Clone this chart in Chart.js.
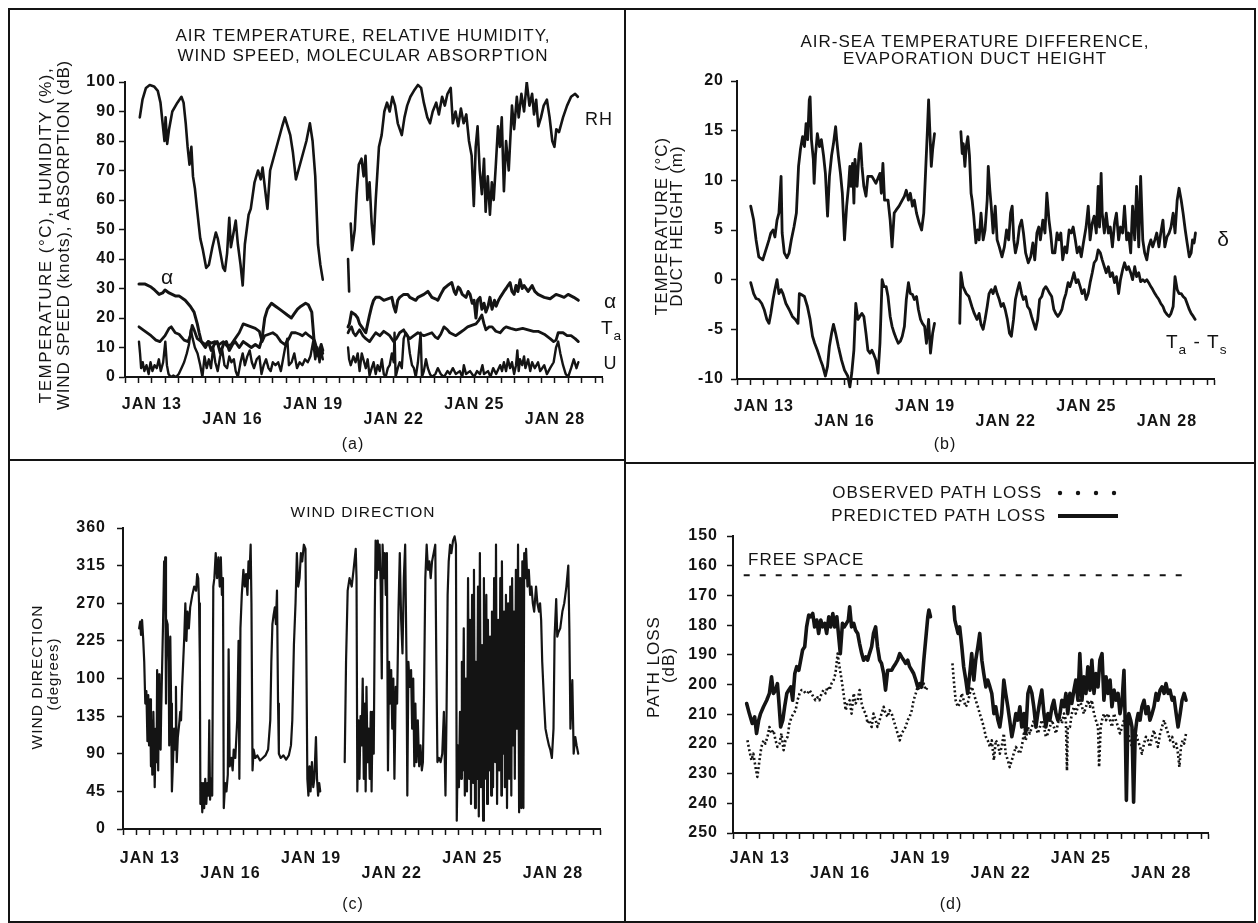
<!DOCTYPE html>
<html>
<head>
<meta charset="utf-8">
<title>Meteorology and path loss, Jan 13 - Jan 28</title>
<script src="https://cdn.jsdelivr.net/npm/chart.js@4.4.1/dist/chart.umd.min.js"></script>
<style>
  body { margin: 0; background: #fff; }
  #fig { position: relative; width: 1258px; height: 923px; background: #fff; overflow: hidden; }
  #fig canvas { position: absolute; }
  .rule { position: absolute; background: #141414; }
</style>
</head>
<body>
<div id="fig">
  <canvas id="panelA" width="626" height="460" style="left:0;top:0"></canvas>
  <canvas id="panelB" width="632" height="460" style="left:626px;top:0"></canvas>
  <canvas id="panelC" width="626" height="463" style="left:0;top:460px"></canvas>
  <canvas id="panelD" width="632" height="463" style="left:626px;top:460px"></canvas>
  <div class="rule" style="left:8px;top:8px;width:1248px;height:2px"></div>
  <div class="rule" style="left:8px;top:921px;width:1248px;height:2px"></div>
  <div class="rule" style="left:8px;top:8px;width:2px;height:915px"></div>
  <div class="rule" style="left:1254px;top:8px;width:2px;height:915px"></div>
  <div class="rule" style="left:624px;top:8px;width:2px;height:915px"></div>
  <div class="rule" style="left:8px;top:459px;width:618px;height:2px"></div>
  <div class="rule" style="left:624px;top:462px;width:632px;height:2px"></div>
</div>
<script>
// ---- axis labels ----
const dateTicks = [13, 16, 19, 22, 25, 28];
const dateTickLabels = ['JAN 13', 'JAN 16', 'JAN 19', 'JAN 22', 'JAN 25', 'JAN 28'];
const windTickLabels = ['0', '45', '90', '135', '100', '225', '270', '315', '360'];

// ---- (a) air temperature, humidity, wind speed, absorption : [day of January, value] ----
const rhPoints = [
  [12.55,88],[12.65,94],[12.78,98],[12.92,99],[13.08,98.5],[13.22,97],[13.32,93],[13.4,86],[13.47,80],[13.51,88],
  [13.57,79],[13.64,84],[13.76,90],[13.95,93],[14.1,95],[14.18,93],[14.26,86],[14.33,78],[14.4,72],[14.47,78],
  [14.53,68],[14.6,64],[14.68,57],[14.8,47],[14.9,43],[15.02,37],[15.12,38],[15.25,44],[15.38,49],[15.45,47],
  [15.55,42],[15.65,37],[15.72,36],[15.8,42],[15.88,54],[15.94,44],[16.02,48],[16.12,53],[16.2,45],[16.3,38],
  [16.38,31],[16.46,45],[16.6,55],[16.68,57],[16.82,66],[16.95,70],[17.05,67],[17.12,71],[17.22,63],[17.3,57],
  [17.4,70],[17.55,75],[17.7,80],[17.85,85],[17.95,88],[18.05,85],[18.15,82],[18.25,76],[18.36,67],[18.45,70],
  [18.6,75],[18.75,80],[18.88,86],[18.98,80],[19.08,68],[19.18,45],[19.27,38],[19.36,33],
  [19.8,null],
  [20.3,40],[20.34,29],[20.37,null],
  [20.4,52],[20.45,43],[20.55,50],[20.62,62],[20.7,72],[20.8,74],[20.88,68],[20.95,75],[21.02,60],[21.1,66],
  [21.18,52],[21.25,45],[21.33,60],[21.45,78],[21.55,82],[21.65,90],[21.75,93],[21.85,90],[21.95,95],[22.05,92],
  [22.15,86],[22.3,82],[22.4,88],[22.5,92],[22.62,95],[22.75,97],[22.9,99],[23.02,98],[23.12,93],[23.25,88],
  [23.35,86],[23.45,90],[23.58,93],[23.68,89],[23.8,95],[23.9,92],[24.0,96],[24.12,98],[24.2,86],[24.3,90],
  [24.4,85],[24.5,91],[24.6,86],[24.7,89],[24.8,80],[24.9,75],[24.98,58],[25.05,78],[25.12,85],[25.2,70],
  [25.28,62],[25.36,74],[25.42,56],[25.5,68],[25.58,55],[25.65,66],[25.72,60],[25.8,72],[25.88,85],[25.95,78],
  [26.02,88],[26.1,63],[26.18,80],[26.28,70],[26.4,92],[26.48,84],[26.58,95],[26.65,88],[26.75,96],[26.85,90],
  [26.95,100],[27.05,92],[27.15,96],[27.22,89],[27.3,94],[27.38,85],[27.48,88],[27.58,92],[27.7,94],[27.8,88],
  [27.9,80],[27.98,78],[28.05,84],[28.15,83],[28.3,88],[28.45,92],[28.6,95],[28.75,96],[28.85,95]
];
const alphaPoints = [
  [12.52,31.5],[12.75,31.5],[12.97,30.5],[13.1,29.5],[13.27,28],[13.4,28.5],[13.49,29.5],[13.64,28.5],[13.87,27.5],
  [14.01,27.5],[14.24,26],[14.43,24],[14.57,22],[14.69,18],[14.76,15],[14.84,12],[14.99,10],[15.1,12],[15.21,9],
  [15.32,11],[15.43,12],[15.55,8],[15.66,11],[15.77,12],[15.88,9],[16.0,11],[16.1,12],[16.25,10],[16.4,12],
  [16.55,11],[16.7,10],[16.85,11],[17.0,10],[17.1,13],[17.2,20],[17.3,23],[17.45,25],[17.6,24],[17.75,23],
  [17.9,22],[18.04,21],[18.19,20],[18.3,21.5],[18.42,23],[18.55,24],[18.72,25],[18.82,24.5],[18.95,22],[19.03,13],
  [19.12,10],[19.22,8],[19.3,11],[19.36,9],
  [19.8,null],
  [20.3,17],[20.35,18],[20.43,22],[20.58,21],[20.66,20],[20.73,18],[20.81,17],[20.96,15],[21.03,18],[21.1,21],
  [21.18,24],[21.25,26],[21.33,27],[21.48,27],[21.63,26],[21.78,26.5],[21.93,27],[22.0,24],[22.07,22],[22.15,26],
  [22.22,27],[22.37,28],[22.52,28],[22.6,27],[22.82,26],[22.9,27],[23.12,28],[23.27,29],[23.42,27],[23.55,26.5],
  [23.64,26],[23.75,28],[23.87,30],[24.0,31],[24.16,32],[24.25,29],[24.31,28],[24.4,30.5],[24.46,30],[24.55,28],
  [24.69,27],[24.77,29],[24.84,28],[24.92,25],[24.99,26],[25.06,20],[25.12,26],[25.21,27],[25.28,23],[25.36,25],
  [25.43,22],[25.51,24],[25.58,27],[25.66,23],[25.75,26],[25.81,24],[25.9,26],[25.96,27],[26.1,29],[26.18,30],
  [26.25,31],[26.33,32],[26.4,29],[26.48,28],[26.55,31],[26.62,29],[26.7,33],[26.78,30],[26.85,31],[27.0,29],
  [27.15,31],[27.25,29],[27.37,28],[27.6,27],[27.82,26.5],[28.04,28],[28.2,27.5],[28.34,27],[28.49,28],[28.7,27],
  [28.87,26]
];
const taPoints = [
  [12.52,17],[12.75,15.5],[12.97,14],[13.15,12.5],[13.3,12],[13.49,14],[13.64,16.5],[13.72,17],[13.87,15],[14.01,14.5],
  [14.2,12.5],[14.35,12],[14.43,14],[14.5,17.5],[14.57,16],[14.69,13],[14.84,12],[14.99,11],[15.1,12],[15.21,11.5],
  [15.35,12],[15.5,11],[15.66,12],[15.8,10.5],[15.95,11],[16.1,13],[16.25,15],[16.4,18],[16.55,17.5],[16.7,17],
  [16.85,16.5],[17.0,15.5],[17.1,12],[17.2,14],[17.35,14.5],[17.5,15],[17.65,14],[17.8,12],[17.95,11],[18.1,13],
  [18.2,15],[18.35,15],[18.5,14.5],[18.6,14],[18.72,15],[18.85,14],[19.0,13],[19.1,10],[19.2,7],[19.28,10],[19.36,8],
  [19.8,null],
  [20.3,15],[20.35,16],[20.43,17],[20.5,15],[20.58,14],[20.73,16],[20.85,14],[20.96,13],[21.1,12],[21.25,14],
  [21.33,15],[21.48,14],[21.63,15.5],[21.78,14.5],[21.85,14],[22.0,12],[22.1,13],[22.22,15],[22.37,16],[22.45,14.5],
  [22.6,13],[22.75,14],[22.9,15],[23.12,14],[23.27,14.5],[23.42,15],[23.55,13.5],[23.64,13],[23.75,14.5],[23.87,17],
  [24.0,16],[24.09,15],[24.31,14],[24.46,15],[24.61,16],[24.75,17],[24.9,17.5],[25.06,18],[25.15,19],[25.28,21],
  [25.36,18],[25.43,16],[25.55,17],[25.66,17],[25.8,15.5],[25.96,15],[26.1,16.5],[26.18,17],[26.35,16.5],[26.55,16],
  [26.8,16.5],[27.0,16],[27.2,15.5],[27.37,15.5],[27.6,14.5],[27.82,13],[27.95,12],[28.04,12.5],[28.12,15],[28.3,15],
  [28.45,14],[28.6,14],[28.75,13],[28.87,12]
];
const windSpeedPoints = [
  [12.52,12],[12.56,8],[12.6,3],[12.66,5],[12.72,2],[12.8,4],[12.88,1],[12.95,5],[13.02,2],[13.1,4],
  [13.18,3],[13.26,6],[13.33,2],[13.42,5],[13.5,12],[13.56,4],[13.62,1],[13.7,0],[13.8,0.5],[13.9,0],
  [14.0,1],[14.1,3],[14.2,5],[14.3,8],[14.38,11],[14.45,16],[14.52,13],[14.6,10],[14.7,8],[14.8,4],
  [14.88,0],[14.96,7],[15.04,3],[15.12,6],[15.2,3],[15.28,10],[15.36,5],[15.45,2],[15.54,7],[15.62,9],
  [15.7,4],[15.8,3],[15.88,7],[15.96,5],[16.05,6],[16.12,2],[16.2,0],[16.3,5],[16.38,8],[16.46,4],
  [16.55,7],[16.64,9],[16.72,5],[16.8,3],[16.9,6],[17.0,7],[17.08,1],[17.16,4],[17.25,6],[17.34,3],
  [17.42,2],[17.5,5],[17.6,4],[17.7,5],[17.8,2],[17.88,6],[17.96,10],[18.04,13],[18.1,4],[18.2,5],
  [18.3,8],[18.4,3],[18.5,5],[18.6,4],[18.7,6],[18.8,5],[18.9,7],[19.0,12],[19.08,6],[19.16,10],
  [19.24,5],[19.3,9],[19.36,6],
  [19.8,null],
  [20.3,10],[20.34,6],[20.4,4],[20.5,7],[20.58,5],[20.66,8],[20.73,2],[20.81,8],[20.9,5],[20.96,3],
  [21.03,6],[21.1,0.5],[21.18,3],[21.25,5],[21.33,1],[21.4,4],[21.48,2],[21.56,6],[21.63,1],[21.7,0],
  [21.78,3],[21.85,4],[21.93,8],[22.0,5],[22.03,15],[22.07,0],[22.15,3],[22.22,5],[22.3,3],[22.37,13],
  [22.45,15],[22.52,14],[22.6,8],[22.68,4],[22.75,3],[22.82,0],[22.9,5],[22.97,12],[23.0,15],[23.05,0],
  [23.12,2],[23.2,6],[23.27,3],[23.35,1],[23.42,0],[23.55,1],[23.64,3],[23.75,1],[23.87,0],[24.0,2],
  [24.09,1],[24.2,3],[24.31,1],[24.46,2],[24.55,0],[24.61,4],[24.69,1],[24.84,2],[24.99,0],[25.1,2],
  [25.21,1],[25.3,4],[25.36,1],[25.51,2],[25.6,0],[25.7,3],[25.81,1],[25.96,4],[26.03,2],[26.1,5],
  [26.18,2],[26.25,6],[26.33,3],[26.4,5],[26.48,1],[26.55,4],[26.6,9],[26.65,2],[26.7,6],[26.78,4],
  [26.85,7],[26.9,3],[27.0,6],[27.08,2],[27.15,5],[27.25,3],[27.37,5],[27.45,2],[27.6,4],[27.7,1],
  [27.82,3],[27.95,5],[28.04,10],[28.12,12],[28.2,8],[28.3,4],[28.4,1],[28.49,0],[28.6,3],[28.7,6],
  [28.8,3],[28.87,5]
];

// ---- (b) evaporation duct height and air-sea temperature difference ----
const ductPoints = [
  [12.51,7.4],[12.62,6.0],[12.71,4.0],[12.81,2.3],[12.96,2.0],[13.04,2.7],[13.11,3.3],[13.19,4.0],[13.26,4.7],[13.34,5.0],
  [13.41,4.3],[13.49,6.0],[13.56,6.7],[13.64,10.4],[13.68,4.7],[13.76,2.7],[13.86,2.2],[13.94,2.7],[14.02,4.0],[14.12,5.3],
  [14.21,6.7],[14.29,11.4],[14.36,13.1],[14.44,14.4],[14.51,13.4],[14.57,15.7],[14.63,14.1],[14.69,18.1],[14.72,18.4],[14.77,14.1],
  [14.84,12.1],[14.87,9.7],[14.92,12.5],[14.99,14.7],[15.07,13.4],[15.14,14.1],[15.22,12.5],[15.29,10.7],[15.37,6.4],[15.44,10.4],
  [15.52,12.5],[15.59,13.7],[15.67,15.4],[15.71,14.1],[15.77,12.5],[15.85,10.7],[15.92,8.7],[16.0,4.0],[16.08,7.4],[16.15,9.4],
  [16.2,11.4],[16.24,9.4],[16.3,11.7],[16.35,7.7],[16.39,12.1],[16.47,9.4],[16.54,12.7],[16.6,13.7],[16.65,11.4],[16.72,9.4],
  [16.8,8.4],[16.87,10.4],[17.02,10.4],[17.17,9.7],[17.32,10.7],[17.37,8.7],[17.43,11.7],[17.49,8.0],[17.62,8.0],[17.7,6.0],
  [17.77,3.3],[17.85,6.7],[17.92,7.0],[18.03,7.4],[18.15,8.0],[18.23,8.4],[18.3,9.0],[18.38,8.0],[18.45,8.7],[18.53,7.4],
  [18.6,8.0],[18.68,6.7],[18.78,5.7],[18.87,5.0],[18.95,6.7],[19.02,11.0],[19.08,14.7],[19.13,18.1],[19.17,15.4],[19.23,11.4],
  [19.28,13.1],[19.35,14.7],
  [19.8,null],
  [20.33,14.9],[20.38,12.7],[20.42,13.7],[20.48,11.4],[20.53,13.4],[20.59,14.4],[20.65,12.5],[20.71,8.7],[20.75,8.0],[20.81,6.4],
  [20.89,3.7],[20.95,5.0],[21.01,4.0],[21.08,6.7],[21.16,4.0],[21.23,5.0],[21.31,8.0],[21.35,11.4],[21.41,9.0],[21.46,7.4],
  [21.53,4.7],[21.61,7.4],[21.68,4.0],[21.76,3.3],[21.86,2.3],[21.95,3.3],[22.03,5.0],[22.11,4.0],[22.18,6.7],[22.24,7.4],
  [22.3,4.0],[22.36,2.7],[22.44,3.7],[22.51,5.3],[22.59,6.0],[22.66,4.7],[22.74,2.7],[22.84,1.7],[22.93,2.3],[23.01,3.7],
  [23.08,2.0],[23.16,4.7],[23.23,5.3],[23.29,4.0],[23.38,6.0],[23.46,4.7],[23.53,8.7],[23.61,6.0],[23.67,4.7],[23.74,2.7],
  [23.83,2.7],[23.91,4.7],[23.98,4.0],[24.05,4.7],[24.12,2.0],[24.2,3.3],[24.27,2.7],[24.36,5.0],[24.44,4.7],[24.51,5.3],
  [24.59,4.0],[24.66,2.7],[24.74,3.3],[24.81,2.3],[24.89,3.7],[24.99,5.3],[25.07,7.4],[25.14,4.0],[25.22,5.7],[25.29,6.4],
  [25.37,4.7],[25.44,9.4],[25.49,5.3],[25.55,10.7],[25.59,6.7],[25.67,4.7],[25.74,6.7],[25.82,4.7],[25.89,5.3],[25.97,3.3],
  [26.05,5.7],[26.12,6.7],[26.2,4.0],[26.27,5.3],[26.35,4.7],[26.42,7.4],[26.5,4.0],[26.57,4.7],[26.65,2.7],[26.72,7.4],
  [26.8,4.0],[26.87,9.4],[26.95,3.3],[27.02,10.4],[27.1,4.0],[27.17,2.7],[27.25,2.0],[27.32,3.3],[27.4,4.0],[27.47,3.3],
  [27.55,4.0],[27.62,4.7],[27.7,3.3],[27.77,4.7],[27.85,6.0],[27.92,3.3],[28.0,4.3],[28.08,4.7],[28.15,5.3],[28.23,6.7],
  [28.3,4.7],[28.38,8.0],[28.45,9.2],[28.53,8.0],[28.6,6.7],[28.68,5.0],[28.75,3.7],[28.83,2.3],[28.9,2.7],[28.95,4.0],
  [29.01,3.7],[29.06,4.7]
];
const airSeaPoints = [
  [12.51,-0.3],[12.62,-1.4],[12.71,-1.9],[12.81,-2.0],[12.92,-2.4],[13.01,-3.0],[13.11,-4.0],[13.19,-4.4],[13.26,-3.4],[13.34,-2.0],
  [13.41,-1.0],[13.49,0],[13.56,-1.4],[13.64,-1.0],[13.71,-1.4],[13.82,-2.4],[13.94,-3.0],[14.06,-3.7],[14.17,-4.0],[14.27,-4.4],
  [14.32,-1.4],[14.39,-1.5],[14.51,-1.7],[14.62,-2.7],[14.72,-4.0],[14.81,-5.7],[14.89,-6.4],[14.99,-7.1],[15.11,-8.1],[15.19,-8.7],
  [15.29,-9.7],[15.37,-8.7],[15.44,-6.7],[15.52,-5.4],[15.59,-4.5],[15.67,-5.4],[15.77,-6.7],[15.89,-8.1],[16.0,-9.1],[16.12,-9.7],
  [16.2,-10.8],[16.27,-9.4],[16.35,-7.1],[16.42,-2.4],[16.5,-4.0],[16.57,-3.7],[16.65,-3.4],[16.72,-3.7],[16.8,-5.4],[16.87,-7.1],
  [16.95,-7.4],[17.02,-7.1],[17.1,-7.6],[17.17,-8.1],[17.25,-9.4],[17.32,-6.4],[17.4,0],[17.47,-0.7],[17.55,-0.7],[17.62,-1.7],
  [17.7,-3.7],[17.77,-4.7],[17.85,-5.4],[17.92,-5.9],[18.0,-6.4],[18.08,-6.2],[18.15,-5.7],[18.23,-4.7],[18.3,-2.0],[18.38,-0.3],
  [18.45,-1.4],[18.53,-1.5],[18.6,-2.0],[18.68,-1.7],[18.75,-3.0],[18.83,-4.0],[18.9,-4.4],[18.98,-4.7],[19.05,-6.4],[19.13,-4.0],
  [19.2,-7.4],[19.28,-5.4],[19.35,-4.4],
  [19.8,null],
  [20.29,-4.4],[20.33,0.7],[20.41,-0.7],[20.53,-1.4],[20.63,-1.7],[20.74,-2.7],[20.83,-3.4],[20.93,-4.0],[21.01,-3.4],[21.08,-4.5],
  [21.16,-5.0],[21.23,-4.0],[21.31,-2.7],[21.38,-1.4],[21.46,-1.0],[21.53,-1.4],[21.61,-0.7],[21.68,-1.4],[21.76,-2.0],[21.83,-2.7],
  [21.91,-2.4],[21.98,-3.0],[22.06,-4.0],[22.14,-5.4],[22.21,-5.7],[22.29,-4.0],[22.36,-2.0],[22.44,-1.0],[22.51,-0.3],[22.59,-1.4],
  [22.66,-2.0],[22.74,-1.7],[22.81,-2.7],[22.89,-3.0],[22.96,-3.7],[23.04,-4.4],[23.11,-5.0],[23.19,-4.0],[23.26,-2.0],[23.34,-1.7],
  [23.41,-1.0],[23.49,-0.7],[23.56,-1.0],[23.64,-1.4],[23.71,-1.7],[23.79,-3.0],[23.86,-3.4],[23.94,-3.7],[24.02,-3.4],[24.09,-3.0],
  [24.17,-2.0],[24.24,-1.4],[24.32,-0.3],[24.39,-0.7],[24.47,0],[24.54,0.7],[24.62,-0.3],[24.69,0],[24.77,-0.7],[24.84,-1.4],
  [24.92,-1.0],[24.99,-2.0],[25.07,-1.4],[25.14,-0.3],[25.22,0.7],[25.29,1.7],[25.37,2.0],[25.44,3.0],[25.52,2.7],[25.59,2.0],
  [25.67,1.3],[25.74,0.7],[25.82,1.3],[25.89,0.3],[25.97,0.7],[26.05,-0.3],[26.12,0.3],[26.2,-1.4],[26.27,0],[26.35,1.0],
  [26.42,1.7],[26.5,1.0],[26.57,1.3],[26.65,0.7],[26.72,0],[26.8,1.3],[26.87,0.3],[26.95,0.7],[27.02,-0.2],[27.1,0],
  [27.17,-0.2],[27.25,0],[27.32,-0.3],[27.4,-0.7],[27.47,-1.0],[27.55,-1.4],[27.62,-1.7],[27.7,-2.0],[27.77,-2.4],[27.85,-2.7],
  [27.92,-3.2],[28.0,-3.5],[28.08,-3.7],[28.15,-3.4],[28.23,-2.7],[28.3,0.3],[28.38,-1.0],[28.45,-1.4],[28.53,-1.4],[28.6,-1.7],
  [28.68,-1.9],[28.75,-2.4],[28.83,-3.0],[28.9,-3.4],[28.98,-3.7],[29.05,-4.0]
];

// ---- (c) wind direction (degrees) ----
const windDirPoints = [
  [12.6,240],[12.64,248],[12.67,232],[12.71,250],[12.75,228],[12.79,200],[12.83,150],[12.87,165],[12.91,105],[12.94,160],
  [12.97,100],[13.01,155],[13.04,75],[13.06,130],[13.09,65],[13.13,140],[13.16,90],[13.18,50],[13.22,120],[13.25,80],
  [13.27,190],[13.31,70],[13.34,185],[13.36,100],[13.4,95],[13.42,140],[13.46,200],[13.49,245],[13.53,320],[13.55,300],
  [13.57,325],[13.6,150],[13.62,250],[13.66,245],[13.7,200],[13.72,100],[13.76,230],[13.79,150],[13.82,45],[13.86,80],
  [13.9,120],[13.94,95],[13.97,170],[14.0,80],[14.04,110],[14.09,125],[14.13,140],[14.16,130],[14.2,170],[14.24,200],
  [14.28,230],[14.32,270],[14.36,225],[14.4,260],[14.45,240],[14.5,265],[14.58,280],[14.65,290],[14.72,285],[14.76,305],
  [14.8,300],[14.83,270],[14.86,200],[14.88,30],[14.92,55],[14.95,20],[14.98,55],[15.02,25],[15.06,60],[15.1,30],
  [15.14,55],[15.18,40],[15.21,130],[15.24,35],[15.28,60],[15.32,40],[15.36,290],[15.4,300],[15.45,330],[15.5,300],
  [15.55,325],[15.6,290],[15.64,325],[15.68,280],[15.72,300],[15.75,25],[15.8,55],[15.85,45],[15.9,65],[15.93,215],
  [15.97,75],[16.03,85],[16.08,70],[16.12,95],[16.18,85],[16.25,130],[16.3,225],[16.33,60],[16.37,240],[16.42,280],
  [16.48,310],[16.53,290],[16.58,305],[16.63,280],[16.67,320],[16.7,300],[16.75,340],[16.78,270],[16.82,70],[16.86,95],
  [16.92,85],[17.0,88],[17.1,82],[17.2,85],[17.3,88],[17.4,95],[17.48,130],[17.52,200],[17.56,245],[17.6,255],
  [17.65,265],[17.69,245],[17.73,285],[17.77,150],[17.8,90],[17.87,85],[17.97,88],[18.07,83],[18.17,88],[18.25,100],
  [18.3,130],[18.36,220],[18.42,270],[18.47,330],[18.52,290],[18.57,300],[18.62,330],[18.67,320],[18.73,340],[18.79,335],
  [18.82,220],[18.86,60],[18.9,40],[18.94,75],[18.98,45],[19.03,80],[19.08,50],[19.12,60],[19.18,110],[19.22,60],
  [19.26,40],[19.3,55],[19.34,45],
  [19.8,null],
  [20.25,80],[20.3,200],[20.36,285],[20.43,300],[20.51,290],[20.58,310],[20.66,335],[20.69,300],[20.72,45],[20.76,130],
  [20.8,60],[20.84,135],[20.88,100],[20.92,180],[20.96,60],[21.0,150],[21.03,45],[21.06,170],[21.1,80],[21.14,120],
  [21.18,60],[21.22,140],[21.25,45],[21.29,140],[21.33,90],[21.37,260],[21.4,345],[21.44,300],[21.48,345],[21.52,310],
  [21.55,340],[21.59,290],[21.63,180],[21.66,340],[21.7,300],[21.74,330],[21.78,280],[21.82,330],[21.86,70],[21.9,200],
  [21.94,150],[21.98,190],[22.02,120],[22.06,180],[22.1,60],[22.15,170],[22.2,150],[22.25,260],[22.3,330],[22.35,250],
  [22.4,210],[22.45,300],[22.5,340],[22.55,200],[22.58,40],[22.62,200],[22.67,170],[22.72,190],[22.76,120],[22.8,180],
  [22.84,75],[22.88,150],[22.92,80],[22.97,130],[23.02,75],[23.07,100],[23.12,70],[23.16,80],[23.2,160],[23.25,300],
  [23.3,340],[23.35,310],[23.4,320],[23.45,300],[23.5,320],[23.56,330],[23.62,340],[23.66,200],[23.7,80],[23.76,85],
  [23.82,80],[23.88,90],[23.94,140],[24.0,40],[24.04,140],[24.08,280],[24.12,320],[24.17,340],[24.22,330],[24.28,345],
  [24.34,350],[24.39,340],[24.42,10],[24.46,100],[24.5,50],[24.54,140],[24.58,60],[24.61,200],[24.64,70],[24.68,240],
  [24.72,40],[24.76,180],[24.8,45],[24.84,300],[24.88,60],[24.91,250],[24.95,30],[24.99,280],[25.03,55],[25.06,310],
  [25.1,25],[25.13,200],[25.17,60],[25.21,290],[25.24,15],[25.28,330],[25.32,50],[25.36,220],[25.4,10],[25.43,300],
  [25.47,60],[25.52,280],[25.55,30],[25.58,250],[25.62,70],[25.66,230],[25.7,40],[25.73,260],[25.77,50],[25.81,300],
  [25.85,80],[25.88,340],[25.92,30],[25.96,250],[26.0,70],[26.04,300],[26.08,40],[26.1,320],[26.14,90],[26.18,260],
  [26.21,50],[26.25,280],[26.29,25],[26.33,270],[26.37,60],[26.41,290],[26.45,40],[26.48,300],[26.52,100],[26.55,260],
  [26.58,60],[26.62,310],[26.66,120],[26.7,340],[26.74,20],[26.78,300],[26.82,25],[26.86,320],[26.9,25],[26.93,330],
  [26.97,300],[27.0,335],[27.05,290],[27.1,310],[27.15,280],[27.2,290],[27.25,270],[27.3,260],[27.37,290],[27.42,270],
  [27.48,260],[27.52,270],[27.56,250],[27.6,200],[27.67,150],[27.72,120],[27.78,110],[27.85,100],[27.9,95],[27.96,85],
  [28.02,120],[28.06,230],[28.12,275],[28.16,230],[28.2,235],[28.27,240],[28.35,260],[28.42,270],[28.5,290],[28.57,315],
  [28.61,240],[28.65,120],[28.72,178],[28.77,90],[28.83,110],[28.88,100],[28.94,90]
];

// ---- (d) path loss (dB) ----
const freeSpacePoints = [[12.4,163.2],[28.8,163.2]];
const observedPoints = [
  [12.54,218.8],[12.61,222.1],[12.69,225.5],[12.76,223.3],[12.84,227.8],[12.91,231.1],[12.99,225.5],[13.06,221.0],[13.14,218.8],[13.21,219.9],
  [13.29,217.6],[13.36,214.3],[13.44,216.5],[13.51,215.4],[13.59,218.8],[13.66,221.0],[13.74,219.9],[13.81,216.5],[13.89,222.1],[13.96,218.8],
  [14.04,217.6],[14.11,213.1],[14.19,210.9],[14.26,209.8],[14.34,208.7],[14.41,205.3],[14.49,203.0],[14.56,201.9],[14.63,201.9],[14.71,203.0],
  [14.78,203.0],[14.86,201.9],[14.93,203.0],[15.01,204.3],[15.08,205.3],[15.16,204.3],[15.23,205.3],[15.31,203.0],[15.38,201.9],[15.46,203.0],
  [15.53,200.8],[15.61,201.9],[15.68,199.7],[15.76,198.5],[15.83,196.3],[15.91,189.6],[15.98,194.0],[16.06,198.5],[16.13,203.0],[16.21,208.7],
  [16.28,206.4],[16.36,205.3],[16.43,209.8],[16.51,203.0],[16.58,206.4],[16.66,205.3],[16.73,201.9],[16.81,206.4],[16.88,208.7],[16.96,209.8],
  [17.03,213.1],[17.1,212.0],[17.18,214.3],[17.25,209.8],[17.33,212.0],[17.4,214.3],[17.48,212.0],[17.55,209.8],[17.63,207.5],[17.7,209.8],
  [17.78,210.9],[17.85,208.7],[17.93,209.8],[18.0,212.0],[18.08,214.3],[18.15,216.5],[18.23,218.8],[18.3,216.5],[18.38,215.4],[18.45,214.3],
  [18.53,212.0],[18.6,210.9],[18.68,208.7],[18.75,205.3],[18.83,203.0],[18.9,200.8],[18.98,201.9],[19.05,200.8],[19.13,199.7],[19.2,201.9],
  [19.28,200.8],
  [19.8,null],
  [20.2,192.9],[20.25,198.5],[20.32,205.3],[20.4,207.5],[20.47,206.4],[20.55,203.0],[20.62,205.3],[20.7,207.5],[20.77,206.4],[20.85,203.0],
  [20.92,200.8],[21.0,203.0],[21.07,205.3],[21.15,207.5],[21.22,209.8],[21.3,212.0],[21.37,214.3],[21.45,217.6],[21.52,218.8],[21.6,221.0],
  [21.67,218.8],[21.75,225.5],[21.82,218.8],[21.9,219.9],[21.97,223.3],[22.04,221.0],[22.12,216.5],[22.19,223.3],[22.27,225.5],[22.34,227.8],
  [22.42,225.5],[22.49,223.3],[22.57,221.0],[22.64,222.1],[22.72,223.3],[22.79,221.0],[22.87,216.5],[22.94,218.8],[23.02,214.3],[23.09,216.5],
  [23.17,214.3],[23.24,212.0],[23.32,214.3],[23.39,216.5],[23.47,214.3],[23.54,212.0],[23.62,214.3],[23.69,217.6],[23.77,216.5],[23.84,214.3],
  [23.92,212.0],[23.99,214.3],[24.07,216.5],[24.14,213.1],[24.22,210.9],[24.29,213.1],[24.37,209.8],[24.44,212.0],[24.48,229.0],[24.51,214.3],
  [24.59,214.3],[24.66,209.8],[24.74,207.5],[24.81,209.8],[24.89,207.5],[24.96,205.3],[25.04,207.5],[25.11,209.8],[25.19,207.5],[25.26,205.3],
  [25.34,207.5],[25.41,205.3],[25.49,209.8],[25.56,212.0],[25.64,214.3],[25.68,227.8],[25.74,214.3],[25.79,212.0],[25.86,209.8],[25.94,212.0],
  [26.01,209.8],[26.09,212.0],[26.16,214.3],[26.24,209.8],[26.31,212.0],[26.39,214.3],[26.46,216.5],[26.54,214.3],[26.61,212.0],[26.69,214.3],
  [26.76,216.5],[26.84,218.8],[26.91,221.0],[26.99,218.8],[27.06,216.5],[27.13,218.8],[27.21,221.0],[27.28,223.3],[27.36,219.9],[27.43,217.6],
  [27.51,218.8],[27.58,221.0],[27.66,217.6],[27.73,215.4],[27.81,218.8],[27.88,221.0],[27.96,216.5],[28.03,214.3],[28.11,212.0],[28.18,214.3],
  [28.26,216.5],[28.33,218.8],[28.41,217.6],[28.48,221.0],[28.56,219.9],[28.63,223.3],[28.68,227.8],[28.74,221.0],[28.8,218.8],[28.86,219.9],
  [28.93,216.5]
];
const predictedPoints = [
  [12.51,206.4],[12.61,209.8],[12.72,213.1],[12.81,210.9],[12.88,216.5],[12.96,212.0],[13.03,209.8],[13.14,207.5],[13.26,205.3],[13.36,203.0],
  [13.44,197.4],[13.51,203.0],[13.59,201.9],[13.66,199.7],[13.71,205.3],[13.78,214.3],[13.86,212.0],[13.93,207.5],[14.01,203.0],[14.08,201.9],
  [14.16,200.8],[14.23,205.3],[14.31,196.3],[14.38,194.0],[14.46,195.2],[14.53,191.8],[14.6,188.4],[14.68,187.3],[14.75,180.6],[14.83,176.6],
  [14.9,177.2],[14.98,176.1],[15.05,180.6],[15.13,178.3],[15.2,182.8],[15.28,178.3],[15.35,180.6],[15.43,179.4],[15.5,182.8],[15.58,177.2],
  [15.65,180.6],[15.73,176.1],[15.8,180.6],[15.88,177.2],[15.95,183.9],[16.01,189.6],[16.09,179.4],[16.16,180.6],[16.24,179.4],[16.31,178.3],
  [16.36,173.8],[16.43,180.6],[16.51,179.4],[16.58,181.7],[16.66,182.8],[16.73,186.2],[16.81,189.6],[16.88,191.8],[16.96,190.7],[17.03,191.8],
  [17.1,189.6],[17.18,187.3],[17.25,182.8],[17.33,180.6],[17.4,187.3],[17.48,191.8],[17.55,192.9],[17.63,196.3],[17.7,201.9],[17.78,195.2],
  [17.85,195.2],[17.93,195.2],[18.0,194.0],[18.08,192.9],[18.15,191.8],[18.23,189.6],[18.3,190.7],[18.38,191.8],[18.45,192.9],[18.53,191.8],
  [18.6,194.0],[18.68,195.2],[18.75,196.3],[18.83,198.5],[18.9,200.8],[18.98,199.7],[19.05,200.8],[19.13,191.8],[19.2,185.0],[19.28,177.2],
  [19.32,174.9],[19.38,177.2],
  [19.8,null],
  [20.25,173.8],[20.29,178.3],[20.35,180.6],[20.41,182.8],[20.47,180.6],[20.55,187.3],[20.62,194.0],[20.7,198.5],[20.77,203.0],[20.85,196.3],
  [20.92,189.6],[21.0,198.5],[21.07,191.8],[21.15,187.3],[21.22,182.8],[21.3,191.8],[21.37,196.3],[21.45,200.8],[21.52,198.5],[21.6,200.8],
  [21.67,203.0],[21.75,209.8],[21.82,207.5],[21.9,212.0],[21.97,214.3],[22.04,209.8],[22.12,198.5],[22.19,203.0],[22.27,207.5],[22.34,212.0],
  [22.42,217.6],[22.49,214.3],[22.57,209.8],[22.64,212.0],[22.72,207.5],[22.79,214.3],[22.87,209.8],[22.94,216.5],[23.02,203.0],[23.09,200.8],
  [23.17,203.0],[23.24,207.5],[23.32,214.3],[23.39,209.8],[23.47,205.3],[23.54,201.9],[23.62,209.8],[23.69,214.3],[23.77,209.8],[23.84,212.0],
  [23.92,207.5],[23.99,205.3],[24.07,209.8],[24.14,212.0],[24.22,209.8],[24.29,205.3],[24.37,207.5],[24.44,203.0],[24.51,209.8],[24.59,203.0],
  [24.66,206.4],[24.74,201.9],[24.81,198.5],[24.89,205.3],[24.96,189.6],[25.04,205.3],[25.11,197.4],[25.19,203.0],[25.26,194.0],[25.34,201.9],
  [25.41,191.8],[25.49,203.0],[25.56,196.3],[25.64,200.8],[25.71,191.8],[25.79,189.6],[25.86,205.3],[25.94,197.4],[26.01,203.0],[26.09,198.5],
  [26.16,207.5],[26.24,201.9],[26.31,205.3],[26.39,203.0],[26.46,209.8],[26.54,205.3],[26.61,195.2],[26.66,214.3],[26.7,239.0],[26.75,214.3],
  [26.79,209.8],[26.86,212.0],[26.91,214.3],[26.97,239.6],[27.03,216.5],[27.09,212.0],[27.14,209.8],[27.21,212.0],[27.28,207.5],[27.36,205.3],
  [27.43,209.8],[27.51,207.5],[27.58,212.0],[27.66,209.8],[27.73,207.5],[27.81,203.0],[27.88,205.3],[27.96,201.9],[28.03,200.8],[28.11,203.0],
  [28.18,199.7],[28.26,203.0],[28.33,201.9],[28.41,205.3],[28.48,204.3],[28.56,209.8],[28.63,214.3],[28.71,209.8],[28.78,205.3],[28.86,203.0],
  [28.93,205.3]
];

// ---- drawing ----
const INK = '#141414';
const FAMILY = '"Liberation Sans", Arial, Helvetica, sans-serif';
const TICK_FONT = { family: FAMILY, size: 16, weight: 'bold', lineHeight: 0.95 };

const halfDayTicks = [];
for (let d = 12; d <= 29.5; d += 0.5) halfDayTicks.push(d);
halfDayTicks.push(29.75);

function dateLabel(v) {
  const i = dateTicks.findIndex(d => Math.abs(d - v) < 1e-6);
  if (i < 0) return '';
  return i % 2 ? ['', dateTickLabels[i]] : dateTickLabels[i];
}

function txt(ctx, s, x, y, o) {
  o = o || {};
  ctx.save();
  ctx.font = (o.weight || 'normal') + ' ' + (o.size || 17) + 'px ' + FAMILY;
  ctx.fillStyle = INK;
  ctx.textAlign = o.align || 'center';
  ctx.textBaseline = 'middle';
  ctx.letterSpacing = (o.ls == null ? 1 : o.ls) + 'px';
  if (o.rot) { ctx.translate(x, y); ctx.rotate(o.rot); ctx.fillText(s, 0, 0); }
  else ctx.fillText(s, x, y);
  ctx.restore();
}

// text with subscripts, parts = [[text, isSub], ...]
function subTxt(ctx, parts, x, y, size) {
  ctx.save();
  ctx.fillStyle = INK;
  ctx.textAlign = 'left';
  ctx.textBaseline = 'middle';
  let cx = x;
  parts.forEach(([s, sub]) => {
    ctx.font = (sub ? size * 0.72 : size) + 'px ' + FAMILY;
    ctx.fillText(s, cx, sub ? y + size * 0.38 : y);
    cx += ctx.measureText(s).width;
  });
  ctx.restore();
}

function textLayer(draw) {
  return {
    id: 'textLayer',
    beforeDraw(chart) { chart.ctx.letterSpacing = '1px'; },
    afterDraw(chart) { draw(chart.ctx, chart); }
  };
}

function series(points, width, extra) {
  return Object.assign({
    data: points.map(p => ({ x: p[0], y: p[1] })),
    borderColor: INK,
    borderWidth: width,
    pointRadius: 0,
    tension: 0,
    spanGaps: false,
    borderJoinStyle: 'round',
    borderCapStyle: 'round'
  }, extra || {});
}

function xAxis(height, pad) {
  return {
    type: 'linear', min: 12, max: 29.75,
    afterBuildTicks: s => { s.ticks = halfDayTicks.map(v => ({ value: v })); },
    afterFit: s => { s.height = height; },
    border: { display: true, color: INK, width: 2 },
    grid: { drawOnChartArea: false, drawTicks: true, tickLength: 6, tickColor: INK, tickWidth: 1.5 },
    ticks: { autoSkip: false, maxRotation: 0, minRotation: 0, padding: pad, color: INK, font: TICK_FONT, callback: v => dateLabel(v) }
  };
}

function yAxis(min, max, step, width, pad, extra, labels) {
  const axis = Object.assign({
    type: 'linear', min: min, max: max,
    afterFit: s => { s.width = width; },
    border: { display: true, color: INK, width: 2 },
    grid: { drawOnChartArea: false, drawTicks: true, tickLength: 6, tickColor: INK, tickWidth: 1.5 },
    ticks: { stepSize: step, padding: pad, color: INK, font: TICK_FONT }
  }, extra || {});
  if (labels) axis.ticks.callback = v => labels[Math.round((v - min) / step)];
  return axis;
}

function panel(id, datasets, scales, padding, draw) {
  return new Chart(document.getElementById(id), {
    type: 'line',
    data: { datasets: datasets },
    options: {
      responsive: false,
      animation: false,
      devicePixelRatio: 1,
      events: [],
      layout: { padding: padding },
      plugins: { legend: { display: false }, tooltip: { enabled: false } },
      scales: scales
    },
    plugins: [textLayer(draw)]
  });
}

const ROT = -Math.PI / 2;

// (a)
panel('panelA',
  [series(rhPoints, 2.6), series(alphaPoints, 3.0), series(taPoints, 2.8), series(windSpeedPoints, 2.4)],
  { x: xAxis(83, 14), y: yAxis(0, 100, 10, 125, 3) },
  { left: 0, top: 82, right: 24, bottom: 0 },
  (ctx) => {
    txt(ctx, 'AIR TEMPERATURE, RELATIVE HUMIDITY,', 363, 36);
    txt(ctx, 'WIND SPEED, MOLECULAR ABSORPTION', 363, 56);
    txt(ctx, 'TEMPERATURE (°C), HUMIDITY (%),', 46, 235, { rot: ROT, size: 17, ls: 1.5 });
    txt(ctx, 'WIND SPEED (knots), ABSORPTION (dB)', 64, 235, { rot: ROT, size: 17, ls: 0.8 });
    txt(ctx, '(a)', 353, 445, { size: 16 });
    txt(ctx, 'RH', 585, 120, { size: 18, align: 'left' });
    txt(ctx, 'α', 167, 278, { size: 21, ls: 0 });
    txt(ctx, 'α', 610, 302, { size: 21, ls: 0 });
    subTxt(ctx, [['T', false], ['a', true]], 601, 329, 19);
    txt(ctx, 'U', 610, 364, { size: 18, ls: 0 });
  });

// (b)
panel('panelB',
  [series(ductPoints, 2.8), series(airSeaPoints, 2.8, { clip: { left: 5, top: 5, right: 5, bottom: 10 } })],
  { x: xAxis(81, 14), y: yAxis(-10, 20, 5, 111, 7) },
  { left: 0, top: 81, right: 44, bottom: 0 },
  (ctx) => {
    txt(ctx, 'AIR-SEA TEMPERATURE DIFFERENCE,', 349, 42);
    txt(ctx, 'EVAPORATION DUCT HEIGHT', 349, 59);
    txt(ctx, 'TEMPERATURE (°C)', 36, 226, { rot: ROT });
    txt(ctx, 'DUCT HEIGHT (m)', 51, 226, { rot: ROT });
    txt(ctx, '(b)', 319, 445, { size: 16 });
    txt(ctx, 'δ', 597, 240, { size: 21, ls: 0 });
    subTxt(ctx, [['T', false], ['a', true], [' - ', false], ['T', false], ['s', true]], 540, 343, 19);
  });

// (c)
panel('panelC',
  [series(windDirPoints, 2.2)],
  { x: xAxis(94, 16), y: yAxis(0, 360, 45, 123, 11, {}, windTickLabels) },
  { left: 0, top: 68, right: 26, bottom: 0 },
  (ctx) => {
    txt(ctx, 'WIND DIRECTION', 363, 53, { size: 15.5 });
    txt(ctx, 'WIND DIRECTION', 38, 217, { rot: ROT, size: 15.5 });
    txt(ctx, '(degrees)', 54, 214, { rot: ROT, size: 15 });
    txt(ctx, '(c)', 353, 445, { size: 16 });
  });

// (d)
panel('panelD',
  [
    series(freeSpacePoints, 2, { borderDash: [6, 10], borderCapStyle: 'butt' }),
    series(observedPoints, 2.6, { borderDash: [2, 2.5], borderCapStyle: 'butt' }),
    series(predictedPoints, 3.6)
  ],
  { x: xAxis(90, 12), y: yAxis(150, 250, 10, 107, 9, { reverse: true }) },
  { left: 0, top: 76, right: 50, bottom: 0 },
  (ctx) => {
    txt(ctx, 'OBSERVED PATH LOSS', 416, 33, { align: 'right' });
    txt(ctx, 'PREDICTED PATH LOSS', 420, 56, { align: 'right' });
    ctx.save();
    ctx.fillStyle = INK;
    [434, 452, 470, 488].forEach(x => { ctx.beginPath(); ctx.arc(x, 33, 2.2, 0, Math.PI * 2); ctx.fill(); });
    ctx.strokeStyle = INK; ctx.lineWidth = 4;
    ctx.beginPath(); ctx.moveTo(432, 56); ctx.lineTo(492, 56); ctx.stroke();
    ctx.restore();
    txt(ctx, 'FREE SPACE', 122, 100, { align: 'left' });
    txt(ctx, 'PATH LOSS', 28, 207, { rot: ROT });
    txt(ctx, '(dB)', 43, 205, { rot: ROT });
    txt(ctx, '(d)', 325, 445, { size: 16 });
  });
</script>
</body>
</html>
